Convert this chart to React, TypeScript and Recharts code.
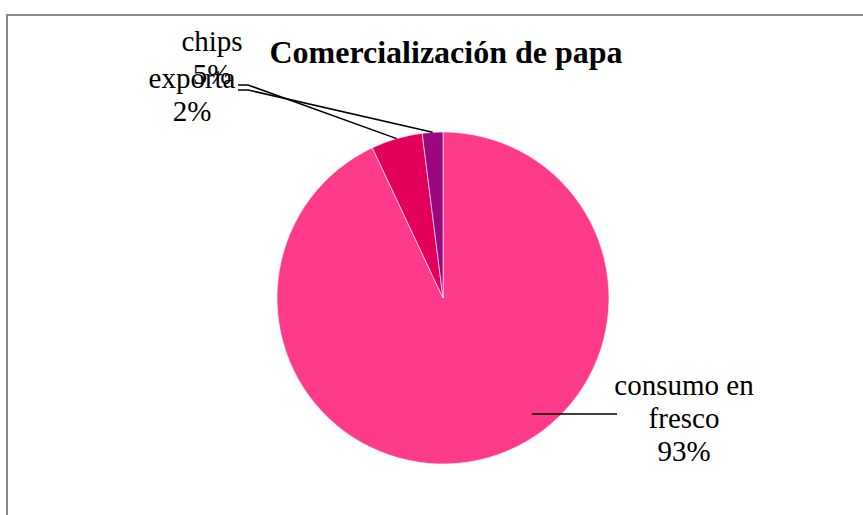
import React from "react";
import { PieChart, Pie, Cell } from "recharts";

const categories = ["consumo en fresco", "chips", "exporta"];
const values = [93, 5, 2];
const percentLabels = ["93%", "5%", "2%"];
const colors = ["#FF3A8A", "#E2005B", "#9A0780"];

const data = categories.map((name, i) => ({ name, value: values[i] }));

// label layout (text block positions and leader elbows)
const labelLayout: Record<string, { lines: string[]; x: number; y: number; elbowX: number; elbowY: number; inner?: boolean }> = {
  chips: { lines: ["chips"], x: 212, y: 51, elbowX: 244, elbowY: 85 },
  exporta: { lines: ["exporta"], x: 192, y: 88, elbowX: 244, elbowY: 90 },
  "consumo en fresco": { lines: ["consumo en", "fresco"], x: 684, y: 395, elbowX: 617, elbowY: 414, inner: true },
};

const RAD = Math.PI / 180;
const FONT = "'Liberation Serif', 'Times New Roman', serif";

const renderLabel = (props: any) => {
  const { cx, cy, midAngle, outerRadius, index } = props;
  const name = categories[index];
  const cfg = labelLayout[name];
  const lh = 33;
  let line: React.ReactNode = null;
  if (cfg.inner) {
    const r = outerRadius * 0.88;
    const dy = cfg.elbowY - cy;
    const px = cx + Math.sqrt(Math.max(r * r - dy * dy, 0));
    line = <line x1={cfg.elbowX} y1={cfg.elbowY} x2={px} y2={cfg.elbowY} stroke="#000" strokeWidth={1.5} />;
  } else {
    const px = cx + outerRadius * Math.cos(-midAngle * RAD);
    const py = cy + outerRadius * Math.sin(-midAngle * RAD);
    line = (
      <polyline
        points={`${cfg.elbowX - 6},${cfg.elbowY} ${cfg.elbowX + 4},${cfg.elbowY} ${px},${py}`}
        fill="none"
        stroke="#000"
        strokeWidth={1.5}
      />
    );
  }
  const allLines = [...cfg.lines, percentLabels[index]];
  return (
    <g key={`lbl-${index}`}>
      {line}
      {allLines.map((t, i) => (
        <text
          key={i}
          x={cfg.x}
          y={cfg.y + i * lh}
          textAnchor="middle"
          fontFamily={FONT}
          fontSize={29}
          fill="#000"
        >
          {t}
        </text>
      ))}
    </g>
  );
};

export default function App() {
  return (
    <div style={{ position: "absolute", left: 0, top: 0, width: 863, height: 515, overflow: "hidden", background: "#fff" }}>
      <div
        style={{
          position: "absolute",
          left: 6,
          top: 14,
          width: 900,
          height: 600,
          border: "2px solid #8a8a8a",
          boxSizing: "border-box",
        }}
      />
      <div style={{ position: "absolute", left: 0, top: 0 }}>
        <PieChart width={863} height={515} margin={{ top: 0, right: 0, bottom: 0, left: 0 }}>
          <text x={446} y={63} textAnchor="middle" fontFamily={FONT} fontWeight="bold" fontSize={32} fill="#000">
            Comercialización de papa
          </text>
          <Pie
            data={data}
            dataKey="value"
            nameKey="name"
            cx={443}
            cy={298}
            outerRadius={166}
            startAngle={90}
            endAngle={-270}
            stroke="#ffffff"
            strokeWidth={0.6}
            label={renderLabel}
            labelLine={false}
            isAnimationActive={false}
          >
            {data.map((d, i) => (
              <Cell key={d.name} fill={colors[i]} />
            ))}
          </Pie>
        </PieChart>
      </div>
    </div>
  );
}
